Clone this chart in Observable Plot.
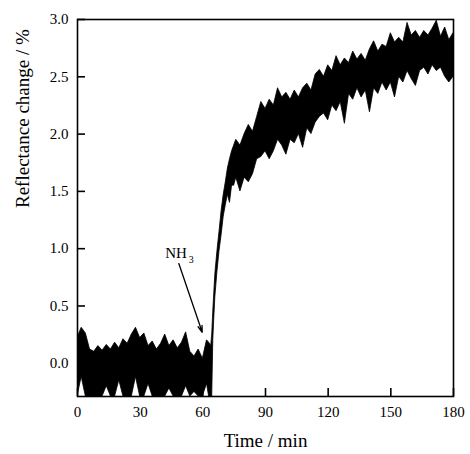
<!DOCTYPE html>
<html><head><meta charset="utf-8">
<script src="https://cdn.jsdelivr.net/npm/d3@7"></script>
<script src="https://cdn.jsdelivr.net/npm/@observablehq/plot@0.6"></script>
<style>body{margin:0;background:#fff}</style>
</head><body><div id="chart"></div>
<script>
// Envelope of the noisy reflectance trace
const timeMin = [0,2,4,6,8,10,12,14,16,18,20,22,24,26,28,30,32,34,36,38,40,42,44,46,48,50,52,54,56,58,60,62,63,
  64,64.5,65,65.5,66,67,68,69,70,71,72,73,74,75,76,78,80,82,84,86,88,90,92,94,96,98,100,102,104,106,108,110,
  112,114,116,118,120,122,124,126,128,130,132,134,136,138,140,142,144,146,148,150,152,154,156,158,160,162,164,
  166,168,170,172,174,176,178,180];
const upper = [0.22,0.31,0.26,0.12,0.10,0.15,0.11,0.16,0.12,0.18,0.13,0.21,0.17,0.25,0.31,0.22,0.26,0.15,0.19,0.12,
  0.17,0.25,0.15,0.20,0.13,0.18,0.27,0.10,0.06,0.12,0.04,0.20,0.18,
  0.15,0.25,0.45,0.62,0.78,0.98,1.15,1.33,1.47,1.58,1.70,1.78,1.85,1.90,1.95,1.90,2.00,2.08,2.02,2.15,2.28,2.22,
  2.30,2.25,2.40,2.32,2.36,2.30,2.38,2.32,2.40,2.44,2.38,2.52,2.56,2.50,2.60,2.55,2.68,2.60,2.66,2.62,2.72,2.65,
  2.70,2.64,2.74,2.81,2.72,2.78,2.76,2.88,2.80,2.84,2.80,2.97,2.86,2.90,2.84,2.90,2.86,2.92,2.99,2.85,2.93,2.82,2.88];
const lower = [-0.29,-0.12,-0.29,-0.29,-0.29,-0.29,-0.29,-0.20,-0.29,-0.29,-0.15,-0.29,-0.29,-0.29,-0.12,-0.29,-0.29,
  -0.18,-0.29,-0.29,-0.29,-0.29,-0.22,-0.29,-0.29,-0.29,-0.20,-0.29,-0.25,-0.29,-0.29,-0.18,-0.29,
  -0.29,-0.29,0.20,0.40,0.58,0.80,0.98,1.12,1.28,1.38,1.47,1.40,1.55,1.55,1.62,1.50,1.62,1.58,1.65,1.78,1.80,1.85,
  1.78,1.85,1.95,1.90,1.82,1.95,1.92,2.00,1.88,2.05,2.00,2.10,2.15,2.18,2.12,2.25,2.20,2.28,2.09,2.35,2.30,2.40,
  2.32,2.38,2.19,2.40,2.35,2.45,2.38,2.45,2.32,2.50,2.45,2.55,2.48,2.42,2.55,2.58,2.52,2.60,2.55,2.58,2.50,2.45,2.50];
const xTicks = [0,30,60,90,120,150,180];
const yTicks = [0,0.5,1.0,1.5,2.0,2.5,3.0];
const annotation = {label: "NH", sub: "3", textX: 47.2, textY: 0.96, subX: 54.4, subY: 0.9,
  fromX: 48.5, fromY: 0.87, toX: 59.7, toY: 0.27};

const rows = timeMin.map((t, i) => ({t, lo: lower[i], hi: upper[i]}));
const font = "Liberation Serif, Times New Roman, serif";

const chart = Plot.plot({
  width: 470, height: 454,
  marginLeft: 77, marginRight: 17, marginTop: 19, marginBottom: 58,
  style: {fontFamily: font, fontSize: "15px", color: "#000", background: "#fff"},
  x: {domain: [0, 180]},
  y: {domain: [-0.29, 3.0]},
  marks: [
    Plot.areaY(rows, {x: "t", y1: "lo", y2: "hi", fill: "#000", stroke: "#000", strokeWidth: 0.8, clip: true}),
    Plot.frame({stroke: "#000", strokeWidth: 1.6}),
    Plot.axisX({ticks: xTicks, tickSize: -8, tickFormat: () => "", label: null, stroke: "#000", strokeWidth: 1.6}),
    Plot.axisY({ticks: yTicks, tickSize: -8, tickFormat: () => "", label: null, stroke: "#000", strokeWidth: 1.6}),
    Plot.axisX({ticks: xTicks, tickSize: 0, tickPadding: 10, label: null, tickFormat: d3.format("d"), fontFamily: font}),
    Plot.axisY({ticks: yTicks, tickSize: 0, tickPadding: 9, label: null, tickFormat: d3.format(".1f"), fontFamily: font}),
    Plot.text(["Time / min"], {text: d => d, frameAnchor: "bottom", dy: 50, fontSize: 19, fontFamily: font}),
    Plot.text(["Reflectance change / %"], {text: d => d, frameAnchor: "left", dx: -55, rotate: -90, fontSize: 19, fontFamily: font}),
    Plot.text([annotation], {x: "textX", y: "textY", text: "label", fontSize: 15, fontFamily: font}),
    Plot.text([annotation], {x: "subX", y: "subY", text: "sub", fontSize: 10, fontFamily: font}),
    Plot.arrow([annotation], {x1: "fromX", y1: "fromY", x2: "toX", y2: "toY", stroke: "#000", strokeWidth: 1.3, headLength: 8, headAngle: 35})
  ]
});
document.getElementById("chart").appendChild(chart);
</script></body></html>
